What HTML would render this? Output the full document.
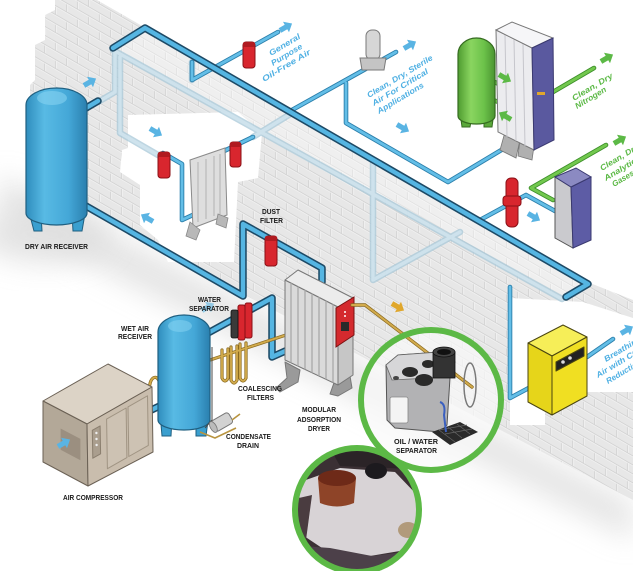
<!DOCTYPE html>
<html><head><meta charset="utf-8">
<style>html,body{margin:0;padding:0;background:#fff;overflow:hidden}svg{display:block}</style>
</head><body>
<svg width="633" height="571" viewBox="0 0 633 571" xmlns="http://www.w3.org/2000/svg" font-family="'Liberation Sans', sans-serif">
<defs>
  <pattern id="brick" width="22" height="18" patternUnits="userSpaceOnUse" patternTransform="skewY(30)">
    <rect width="22" height="18" fill="#e7e7e7"/>
    <path d="M0 0.5H22M0 9.5H22M0.5 0V9M11.5 9V18" stroke="#d3d3d3" stroke-width="0.9" fill="none"/>
    <path d="M0 1.5H22M0 10.5H22M1.5 1V9M12.5 10V18" stroke="#f3f3f3" stroke-width="0.7" fill="none"/>
  </pattern>
  <filter id="blur" x="-20%" y="-50%" width="140%" height="200%"><feGaussianBlur stdDeviation="14"/></filter>
  <linearGradient id="tb" x1="0" x2="1" y1="0" y2="0">
    <stop offset="0" stop-color="#2f8dbd"/><stop offset="0.3" stop-color="#58bae4"/>
    <stop offset="0.7" stop-color="#44a7d7"/><stop offset="1" stop-color="#2a7fae"/>
  </linearGradient>
  <linearGradient id="tg" x1="0" x2="1" y1="0" y2="0">
    <stop offset="0" stop-color="#4f9c30"/><stop offset="0.35" stop-color="#8ad560"/>
    <stop offset="0.7" stop-color="#6cc24a"/><stop offset="1" stop-color="#4a9430"/>
  </linearGradient>
  <clipPath id="photo"><circle cx="357" cy="510" r="62"/></clipPath>
  <path id="arr" d="M-7,-2.6 L0,-2.6 L0,-6 L7,0 L0,6 L0,2.6 L-7,2.6 Z"/>
</defs>

<rect width="633" height="571" fill="#fff"/>

<!-- floor shadow -->
<path d="M0,175 L633,503 L633,540 L0,218 Z" fill="#d9d9d9" filter="url(#blur)" opacity="0.7"/>
<ellipse cx="45" cy="235" rx="65" ry="28" fill="#dedede" filter="url(#blur)" opacity="0.8"/>

<!-- wall -->
<path d="M55,0 L97,0 L590,283 L633,300 L633,500 L90,213 L30,181 L30,85 L35,80 L35,45 L45,40 L45,15 L55,10 Z" fill="url(#brick)"/>
<!-- cap -->
<path d="M145,28 L588,284 L566,297 L113,48 Z" fill="#fff" opacity="0.35"/>
<!-- openings -->
<path d="M128,115 L238,112 L262,133 L258,178 L238,182 L234,262 L168,262 L158,240 L140,225 L140,185 L120,172 L122,150 L128,148 Z" fill="#fff"/>
<path d="M510,298 L583,302 L633,318 L633,392 L575,392 L545,408 L545,425 L510,425 Z" fill="#fff"/>

<!-- translucent pipes -->
<g fill="none" stroke-linejoin="round" stroke-linecap="round">
  <path d="M98,102 L115,92 L115,48 M120,57 L120,133 L158,155 M113,50 L562,299 M253,137 L292,113 M373,160 L373,280 L460,232 M192,62 L192,80" stroke="#a8c8d8" stroke-width="6.5" opacity="0.75"/>
  <path d="M98,102 L115,92 L115,48 M120,57 L120,133 L158,155 M113,50 L562,299 M253,137 L292,113 M373,160 L373,280 L460,232" stroke="#d3e6f0" stroke-width="3.5" opacity="0.8"/>
</g>

<!-- thin blue pipes -->
<g fill="none" stroke-linejoin="round" stroke-linecap="round">
  <path d="M192,62 L192,80 L278,32 M292,110 L396,52 M346,83 L346,123 L448,182 L523,137 M480,220 L526,195 L555,211 M510,287 L510,398 L540,382 M587,357 L613,339 M163,153 L182,164 L182,220 L195,214 M222,152 L253,137" stroke="#2b7fab" stroke-width="4.6"/>
  <path d="M192,62 L192,80 L278,32 M292,110 L396,52 M346,83 L346,123 L448,182 L523,137 M480,220 L526,195 L555,211 M510,287 L510,398 L540,382 M587,357 L613,339 M163,153 L182,164 L182,220 L195,214 M222,152 L253,137" stroke="#63bee7" stroke-width="2.8"/>
</g>

<!-- green pipes -->
<g fill="none" stroke-linejoin="round" stroke-linecap="round">
  <path d="M463,67 L526,97 M465,106 L482,96 L526,112 M553,92 L594,68 M553,200 L531,188 L606,145" stroke="#3d8f2a" stroke-width="4.6"/>
  <path d="M463,67 L526,97 M465,106 L482,96 L526,112 M553,92 L594,68 M553,200 L531,188 L606,145" stroke="#72c84e" stroke-width="2.8"/>
</g>

<!-- main pipes -->
<g fill="none" stroke-linejoin="round" stroke-linecap="round">
  <path d="M113,48 L145,28 L588,284 L566,297 M72,198 L243,296 L243,224 L322,268 L322,282 M208,333 L272,298 L272,357 L292,348 M145,413 L166,403 M86,108 L98,101" stroke="#1d4a66" stroke-width="7.5"/>
  <path d="M113,48 L145,28 L588,284 L566,297 M72,198 L243,296 L243,224 L322,268 L322,282 M208,333 L272,298 L272,357 L292,348 M145,413 L166,403 M86,108 L98,101" stroke="#55b5e2" stroke-width="4.4"/>
</g>

<!-- gold pipes (back) -->
<g fill="none" stroke-linecap="round" stroke-linejoin="round">
  <path d="M150,396 C146,374 162,370 160,392 M210,360 L292,333 M222,350 V378 Q225,384 228,378 V349 M231,347 V380 Q234,386 237,380 V346 M240,344 V378 Q243,384 246,378 V343" stroke="#8a6a20" stroke-width="3.2"/>
  <path d="M150,396 C146,374 162,370 160,392 M210,360 L292,333 M222,350 V378 Q225,384 228,378 V349 M231,347 V380 Q234,386 237,380 V346 M240,344 V378 Q243,384 246,378 V343" stroke="#d2ab4c" stroke-width="1.8"/>
</g>

<!-- dry air receiver -->
<path d="M28,208 L34,231 L42,231 L41,214 Z M72,214 L73,231 L82,231 L86,208 Z" fill="#3a9fcf" stroke="#1f5f80" stroke-width="1"/>
<path d="M26,105 L26,213 A30.5,12 0 0 0 87,213 L87,105 A30.5,17 0 0 0 26,105 Z" fill="url(#tb)" stroke="#1f5f80" stroke-width="1.2"/>
<ellipse cx="52" cy="98" rx="15" ry="7" fill="#8ad6f3" opacity="0.55"/>

<!-- wet air receiver -->
<path d="M160,413 L162,436 L171,436 L172,418 Z M196,418 L196,436 L206,436 L209,413 Z" fill="#3a9fcf" stroke="#1f5f80" stroke-width="1"/>
<path d="M158,332 L158,420 A26,10 0 0 0 210,420 L210,332 A26,17 0 0 0 158,332 Z" fill="url(#tb)" stroke="#1f5f80" stroke-width="1.2"/>
<ellipse cx="180" cy="326" rx="12" ry="6" fill="#8ad6f3" opacity="0.5"/>
<path d="M212,347 V420 L205,428" stroke="#4a4a4a" stroke-width="1" fill="none"/>
<!-- condensate drain -->
<g transform="translate(222,422) rotate(-30)"><rect x="-10" y="-6" width="20" height="12" rx="3" fill="#d2d2d2" stroke="#777" stroke-width="1"/><ellipse cx="-10" cy="0" rx="3" ry="6" fill="#bbb" stroke="#777" stroke-width="0.8"/></g>
<path d="M200,432 L215,438 L236,428 M232,420 L240,414" stroke="#b89440" stroke-width="1.6" fill="none"/>

<!-- air compressor -->
<g stroke="#6b6155" stroke-width="1" stroke-linejoin="round">
  <path d="M43,401 L108,364 L152,387 L87,424 Z" fill="#dcd3c6"/>
  <path d="M43,401 L87,424 L88,486 L43,462 Z" fill="#b3a898"/>
  <path d="M87,424 L152,387 L153,452 L88,486 Z" fill="#c9bdad"/>
  <path d="M60.6,428.5 L80.4,438.9 L80.4,460.2 L60.6,449.8 Z" fill="#9b8f80" stroke="none"/>
  <path d="M106.6,419.1 L126.1,408 L126.9,457.6 L107.4,468.7 Z M128,406.9 L147.5,395.8 L148.3,445.4 L128.8,456.5 Z" fill="#cdc2b3" stroke="#a09483"/>
  <path d="M92.3,430.3 L100.1,425.9 L100.6,453.8 L92.8,458.2 Z" fill="#aa9e8e" stroke="#8a7e6e"/>
</g>
<circle cx="96.4" cy="433" r="1.2" fill="#eee"/><circle cx="96.5" cy="439" r="1.2" fill="#eee"/><circle cx="96.6" cy="445" r="1.2" fill="#eee"/>

<!-- filter panel in opening -->
<path d="M190,160 L225,148 L227,215 L193,228 Z" fill="#dedede" stroke="#8a8a8a" stroke-width="1"/>
<path d="M198,162 L198,222 M206,159 L206,219 M214,156 L214,216 M220,154 L220,214" stroke="#b2b2b2" stroke-width="1"/>
<path d="M190,222 L200,230 L196,240 L186,236 Z M218,214 L228,218 L226,228 L216,224 Z" fill="#b8b8b8" stroke="#888" stroke-width="0.8"/>

<!-- red filters -->
<g fill="#d8262e" stroke="#8a1016" stroke-width="1">
  <rect x="243" y="42" width="12" height="26" rx="3"/>
  <rect x="158" y="152" width="12" height="26" rx="3"/>
  <rect x="230" y="142" width="11" height="25" rx="3"/>
  <rect x="265" y="236" width="12" height="30" rx="3"/>
  <rect x="506" y="178" width="12" height="49" rx="5"/>
  <rect x="503" y="196" width="18" height="10" rx="3"/>
  <rect x="466" y="65" width="9" height="23" rx="2"/>
  <rect x="238" y="305" width="7" height="35" rx="2"/>
  <rect x="245" y="303" width="7" height="35" rx="2"/>
</g>
<rect x="231" y="310" width="7" height="28" rx="2" fill="#3a3a3a" stroke="#111" stroke-width="0.8"/>
<g fill="#b01a20"><rect x="243" y="42" width="12" height="5" rx="2"/><rect x="158" y="152" width="12" height="5" rx="2"/><rect x="230" y="142" width="11" height="5" rx="2"/><rect x="265" y="236" width="12" height="5" rx="2"/></g>

<!-- sterile filter -->
<rect x="366" y="30" width="14" height="30" rx="6" fill="#d6d6d6" stroke="#7a7a7a" stroke-width="1"/>
<path d="M360,58 L386,58 L384,70 L362,70 Z" fill="#c4c4c4" stroke="#7a7a7a" stroke-width="1"/>

<!-- green tank -->
<path d="M460,112 L462,127 L470,127 L472,116 Z M484,116 L484,127 L492,127 L494,112 Z" fill="#5aa83a" stroke="#356b20" stroke-width="1"/>
<path d="M458,54 L458,116 A18.5,8 0 0 0 495,116 L495,54 A18.5,16 0 0 0 458,54 Z" fill="url(#tg)" stroke="#356b20" stroke-width="1.2"/>

<!-- nitrogen generator -->
<path d="M505,132 L520,140 L516,158 L500,150 Z M520,140 L534,146 L532,160 L518,156 Z" fill="#b0b0b0" stroke="#777" stroke-width="0.8"/>
<path d="M496,30 L532,48 L534,150 L498,132 Z" fill="#ececef" stroke="#777" stroke-width="1"/>
<path d="M505,35 L507,137 M514,39 L516,141 M523,44 L525,146" stroke="#c6c6cc" stroke-width="1"/>
<path d="M496,30 L512,22 L553,38 L532,48 Z" fill="#f6f6f8" stroke="#777" stroke-width="1"/>
<path d="M532,48 L553,38 L554,140 L534,150 Z" fill="#5a599f" stroke="#3a3970" stroke-width="1"/>
<rect x="537" y="92" width="8" height="3" fill="#e0a72c"/>

<!-- analytical box -->
<path d="M555,177 L571,187 L573,248 L555,238 Z" fill="#cacace" stroke="#555" stroke-width="1"/>
<path d="M571,187 L591,177 L591,240 L573,248 Z" fill="#5d5ca5" stroke="#3a3970" stroke-width="1"/>
<path d="M555,177 L576,168 L591,177 L571,187 Z" fill="#8b8ac2" stroke="#3a3970" stroke-width="1"/>

<!-- yellow box -->
<g stroke="#4a4510" stroke-width="1" stroke-linejoin="round">
  <path d="M528,343 L563,325 L587,337 L552,356 Z" fill="#f6ee58"/>
  <path d="M528,343 L552,356 L552,415 L528,402 Z" fill="#e6d51a"/>
  <path d="M552,356 L587,337 L587,396 L552,415 Z" fill="#f0df22"/>
  <path d="M556,362 L584,347 L584,356 L556,371 Z" fill="#222"/>
</g>
<circle cx="563" cy="362" r="1.8" fill="#ddd"/><circle cx="570" cy="358" r="1.8" fill="#ddd"/>

<!-- modular adsorption dryer -->
<g stroke="#777" stroke-width="1" stroke-linejoin="round">
  <path d="M285,362 L300,370 L298,382 L280,392 L276,388 L287,378 Z M335,380 L350,376 L352,388 L338,396 L330,394 Z" fill="#9a9a9a"/>
  <path d="M285,280 L338,307 L338,385 L285,360 Z" fill="#dadada"/>
  <path d="M338,307 L353,298 L353,375 L338,385 Z" fill="#c6c6c6"/>
  <path d="M285,280 L298,270 L353,298 L338,307 Z" fill="#ececec"/>
</g>
<path d="M291,283 V362.8 M298,286.6 V366.1 M305,290 V369.4 M312,293.6 V372.7 M319,297.1 V376 M326,300.7 V379.3 M333,304.2 V382.6" stroke="#a8a8a8" stroke-width="1.3"/>
<path d="M336,308 L354,297 L354,335 L336,347 Z" fill="#d42a2e" stroke="#7a1010" stroke-width="1"/>
<rect x="341" y="322" width="8" height="9" fill="#2a2a2a"/>
<circle cx="345" cy="312" r="1" fill="#fff"/><circle cx="345" cy="316" r="1" fill="#fff"/>

<!-- oil / water separator circle -->
<circle cx="431" cy="400" r="70" fill="#fafafa" opacity="0.7"/>
<g fill="none" stroke-linecap="round">
  <path d="M352,305 L365,305 L472,387" stroke="#8a6a20" stroke-width="3.4"/>
  <path d="M352,305 L365,305 L472,387" stroke="#d2ab4c" stroke-width="2"/>
</g>
<ellipse cx="470" cy="385" rx="6" ry="22" fill="none" stroke="#7a7a7a" stroke-width="1.5"/>
<path d="M386,365 L398,355 L440,352 L455,362 L450,378 L447,425 L440,432 L395,428 L387,420 Z" fill="#b2b2b4" stroke="#555" stroke-width="1"/>
<path d="M386,365 L398,355 L440,352 L455,362 L447,377 L392,380 Z" fill="#d6d6d8" stroke="#666" stroke-width="0.8"/>
<ellipse cx="410" cy="372" rx="8" ry="5" fill="#2a2a2a"/>
<ellipse cx="428" cy="364" rx="6" ry="4" fill="#2a2a2a"/>
<ellipse cx="424" cy="380" rx="9" ry="6" fill="#2a2a2a"/>
<ellipse cx="396" cy="378" rx="3" ry="2" fill="#444"/>
<rect x="433" y="352" width="22" height="26" fill="#333" stroke="#111" stroke-width="0.8"/>
<ellipse cx="444" cy="352" rx="11" ry="5" fill="#444" stroke="#111" stroke-width="0.8"/>
<ellipse cx="444" cy="352" rx="7" ry="3" fill="#111"/>
<rect x="390" y="397" width="18" height="26" rx="2" fill="#f4f4f4" stroke="#888" stroke-width="0.8"/>
<path d="M432,432 L460,422 L478,432 L450,445 Z" fill="#2a2a2a"/>
<path d="M439,430 L467,425 M445,434 L472,429 M439,430 L455,442 M448,427 L462,438 M457,424 L470,434" stroke="#666" stroke-width="0.7"/>
<path d="M440,402 Q446,404 444,415 L446,432" stroke="#3a5fc0" stroke-width="2" fill="none"/>
<circle cx="431" cy="400" r="70" fill="none" stroke="#5cb946" stroke-width="6"/>

<!-- photo circle -->
<g clip-path="url(#photo)">
  <rect x="290" y="440" width="140" height="140" fill="#3b3034"/>
  <path d="M300,482 L340,468 L395,472 L420,498 L418,548 L370,556 L325,550 L298,532 Z" fill="#d8d3d6"/>
  <path d="M330,448 L420,448 L420,470 L390,468 L340,466 Z" fill="#2b2427"/>
  <path d="M290,545 L330,548 L372,556 L420,550 L420,580 L290,580 Z" fill="#4c4049"/>
  <path d="M318,478 L356,478 L354,503 Q337,510 320,503 Z" fill="#8e4428"/>
  <ellipse cx="337" cy="478" rx="19" ry="8" fill="#6e2a18"/>
  <ellipse cx="376" cy="471" rx="11" ry="8" fill="#1c1a1e"/>
  <ellipse cx="408" cy="530" rx="10" ry="8" fill="#a88c64" opacity="0.8"/>
  <path d="M290,500 L312,495 L306,540 L290,545 Z" fill="#4a3c40"/>
</g>
<circle cx="357" cy="510" r="62" fill="none" stroke="#5cb946" stroke-width="6"/>

<!-- arrows -->
<g fill="#5ab4e3">
  <use href="#arr" transform="translate(286,27) rotate(-30)"/>
  <use href="#arr" transform="translate(410,45) rotate(-30)"/>
  <use href="#arr" transform="translate(90,82) rotate(-30)"/>
  <use href="#arr" transform="translate(156,132) rotate(30)"/>
  <use href="#arr" transform="translate(147,218) rotate(-150)"/>
  <use href="#arr" transform="translate(403,128) rotate(30)"/>
  <use href="#arr" transform="translate(534,217) rotate(30)"/>
  <use href="#arr" transform="translate(627,330) rotate(-30)"/>
  <use href="#arr" transform="translate(64,443) rotate(-30)"/>
  <use href="#arr" transform="translate(208,307) rotate(-30)" opacity="0.6"/>
</g>
<g fill="#5cb946">
  <use href="#arr" transform="translate(505,78) rotate(30)"/>
  <use href="#arr" transform="translate(505,116) rotate(-150)"/>
  <use href="#arr" transform="translate(607,58) rotate(-30)"/>
  <use href="#arr" transform="translate(620,140) rotate(-30)"/>
</g>
<use href="#arr" transform="translate(398,307) rotate(30)" fill="#e0a72c"/>

<!-- black labels -->
<g font-weight="bold" font-size="7.5" fill="#1a1a1a">
  <text x="25" y="249" textLength="63" lengthAdjust="spacingAndGlyphs">DRY AIR RECEIVER</text>
  <text x="262" y="214" textLength="18" lengthAdjust="spacingAndGlyphs">DUST</text>
  <text x="260" y="223" textLength="23" lengthAdjust="spacingAndGlyphs">FILTER</text>
  <text x="198" y="302" textLength="23" lengthAdjust="spacingAndGlyphs">WATER</text>
  <text x="189" y="311" textLength="40" lengthAdjust="spacingAndGlyphs">SEPARATOR</text>
  <text x="121" y="331" textLength="28" lengthAdjust="spacingAndGlyphs">WET AIR</text>
  <text x="118" y="339" textLength="34" lengthAdjust="spacingAndGlyphs">RECEIVER</text>
  <text x="238" y="391" textLength="44" lengthAdjust="spacingAndGlyphs">COALESCING</text>
  <text x="247" y="400" textLength="27" lengthAdjust="spacingAndGlyphs">FILTERS</text>
  <text x="226" y="439" textLength="45" lengthAdjust="spacingAndGlyphs">CONDENSATE</text>
  <text x="237" y="448" textLength="22" lengthAdjust="spacingAndGlyphs">DRAIN</text>
  <text x="63" y="500" textLength="60" lengthAdjust="spacingAndGlyphs">AIR COMPRESSOR</text>
  <text x="302" y="412" textLength="34" lengthAdjust="spacingAndGlyphs">MODULAR</text>
  <text x="297" y="422" textLength="44" lengthAdjust="spacingAndGlyphs">ADSORPTION</text>
  <text x="308" y="431" textLength="22" lengthAdjust="spacingAndGlyphs">DRYER</text>
  <text x="394" y="444" textLength="44" lengthAdjust="spacingAndGlyphs">OIL / WATER</text>
  <text x="396" y="453" textLength="41" lengthAdjust="spacingAndGlyphs">SEPARATOR</text>
</g>

<!-- blue application labels -->
<g font-weight="bold" font-style="italic" font-size="8" fill="#4fb0e3">
  <text transform="translate(271,56) rotate(-31)" textLength="35" lengthAdjust="spacingAndGlyphs">General</text>
  <text transform="translate(273,66) rotate(-31)" textLength="35" lengthAdjust="spacingAndGlyphs">Purpose</text>
  <text transform="translate(264,82) rotate(-31)" textLength="55" lengthAdjust="spacingAndGlyphs">Oil-Free Air</text>
  <text transform="translate(369,98) rotate(-31)" textLength="75" lengthAdjust="spacingAndGlyphs">Clean, Dry, Sterile</text>
  <text transform="translate(374,106) rotate(-31)" textLength="64" lengthAdjust="spacingAndGlyphs">Air For Critical</text>
  <text transform="translate(379,114) rotate(-31)" textLength="53" lengthAdjust="spacingAndGlyphs">Applications</text>
  <text transform="translate(606,362) rotate(-31)" textLength="42" lengthAdjust="spacingAndGlyphs">Breathing</text>
  <text transform="translate(598,378) rotate(-31)" textLength="52" lengthAdjust="spacingAndGlyphs">Air with CO₂</text>
  <text transform="translate(608,384) rotate(-31)" textLength="40" lengthAdjust="spacingAndGlyphs">Reduction</text>
</g>
<g font-weight="bold" font-style="italic" font-size="8" fill="#5cb946">
  <text transform="translate(574,101) rotate(-31)" textLength="46" lengthAdjust="spacingAndGlyphs">Clean, Dry</text>
  <text transform="translate(577,109) rotate(-31)" textLength="35" lengthAdjust="spacingAndGlyphs">Nitrogen</text>
  <text transform="translate(602,171) rotate(-31)" textLength="46" lengthAdjust="spacingAndGlyphs">Clean, Dry,</text>
  <text transform="translate(606,181) rotate(-31)" textLength="44" lengthAdjust="spacingAndGlyphs">Analytical</text>
  <text transform="translate(614,187) rotate(-31)" textLength="24" lengthAdjust="spacingAndGlyphs">Gases</text>
</g>
</svg>
</body></html>
